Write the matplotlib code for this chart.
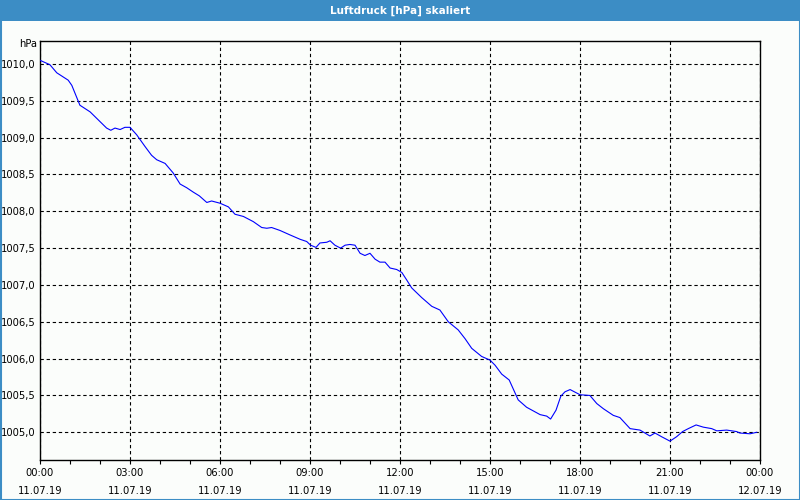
import matplotlib
matplotlib.use("Agg")
import matplotlib.pyplot as plt
from matplotlib.patches import Rectangle

# Time in hours since 11.07.19 00:00
hours = [0.0, 0.33, 0.56, 0.94, 1.06, 1.33, 1.67, 2.22, 2.36, 2.5, 2.67, 2.83, 3.0,
         3.22, 3.5, 3.72, 3.89, 4.17, 4.44, 4.67, 4.89, 5.11, 5.31, 5.56, 5.72, 6.0,
         6.28, 6.5, 6.78, 7.11, 7.39, 7.56, 7.72, 8.0, 8.33, 8.67, 8.89, 9.02, 9.2,
         9.33, 9.56, 9.67, 9.83, 10.02, 10.17, 10.33, 10.5, 10.67, 10.83, 11.0, 11.17,
         11.33, 11.5, 11.67, 11.89, 12.06, 12.22, 12.39, 12.72, 13.06, 13.33, 13.61,
         13.94, 14.17, 14.39, 14.72, 15.0, 15.17, 15.39, 15.64, 15.94, 16.22, 16.67,
         16.89, 17.02, 17.2, 17.36, 17.5, 17.67, 18.0, 18.33, 18.56, 18.78, 19.11,
         19.33, 19.67, 20.0, 20.33, 20.5, 20.72, 21.0, 21.22, 21.42, 21.61, 21.87,
         22.11, 22.39, 22.56, 22.89, 23.22, 23.33, 23.67, 23.89]
pressure = [1010.05, 1009.99, 1009.88, 1009.78, 1009.71, 1009.44, 1009.35, 1009.13,
            1009.10, 1009.13, 1009.11, 1009.14, 1009.14, 1009.04, 1008.88, 1008.76,
            1008.70, 1008.65, 1008.52, 1008.37, 1008.32, 1008.26, 1008.21, 1008.12,
            1008.14, 1008.11, 1008.06, 1007.96, 1007.93, 1007.86, 1007.78, 1007.77,
            1007.78, 1007.74, 1007.68, 1007.62, 1007.59, 1007.54, 1007.51, 1007.57,
            1007.58, 1007.60, 1007.54, 1007.50, 1007.54, 1007.55, 1007.54, 1007.43,
            1007.40, 1007.43, 1007.35, 1007.31, 1007.31, 1007.23, 1007.21, 1007.17,
            1007.07, 1006.96, 1006.83, 1006.71, 1006.66, 1006.50, 1006.39, 1006.27,
            1006.14, 1006.03, 1005.98, 1005.91, 1005.79, 1005.71, 1005.44, 1005.34,
            1005.24, 1005.22, 1005.18, 1005.30, 1005.49, 1005.55, 1005.58, 1005.51,
            1005.50, 1005.39, 1005.32, 1005.23, 1005.20, 1005.05, 1005.03, 1004.95,
            1004.99, 1004.94, 1004.88, 1004.94, 1005.01, 1005.05, 1005.10, 1005.07,
            1005.05, 1005.02, 1005.03, 1005.01, 1004.99, 1004.98, 1005.00]

xtick_pos = [0, 3, 6, 9, 12, 15, 18, 21, 24]
xtick_labels = ["00:00\n11.07.19", "03:00\n11.07.19", "06:00\n11.07.19",
                "09:00\n11.07.19", "12:00\n11.07.19", "15:00\n11.07.19",
                "18:00\n11.07.19", "21:00\n11.07.19", "00:00\n12.07.19"]
ytick_pos = [1005.0, 1005.5, 1006.0, 1006.5, 1007.0, 1007.5, 1008.0, 1008.5,
             1009.0, 1009.5, 1010.0]
ytick_labels = ["1005,0", "1005,5", "1006,0", "1006,5", "1007,0", "1007,5",
                "1008,0", "1008,5", "1009,0", "1009,5", "1010,0"]
title = "Luftdruck [hPa] skaliert"
unit = "hPa"

bg = "#fbfdfb"
bar = "#3c8dc5"

fig = plt.figure(figsize=(8, 5), dpi=100, facecolor=bg)

# title bar and border
fig.patches.append(Rectangle((0, 1 - 21 / 500), 1, 21 / 500, transform=fig.transFigure,
                             facecolor=bar, edgecolor="none", zorder=0))
fig.patches.append(Rectangle((0.5 / 800, 0.5 / 500), 1 - 1 / 800, 1 - 1 / 500,
                             transform=fig.transFigure, facecolor="none",
                             edgecolor=bar, linewidth=1.5, zorder=1))
fig.text(0.5, 1 - 10.5 / 500, title, color="white", fontsize=7.5, fontweight="bold",
         ha="center", va="center", family="DejaVu Sans")

ax = fig.add_axes([40 / 800, 1 - 460 / 500, 720 / 800, (460 - 40.7) / 500])
ax.set_facecolor(bg)
ax.plot(hours, pressure, color="#0000ff", linewidth=0.8, zorder=3)

ax.set_xlim(0, 24)
ax.set_ylim(1004.624, 1010.316)
ax.set_xticks(xtick_pos)
ax.set_xticklabels(xtick_labels, fontsize=7.2, linespacing=1.9)
ax.set_xticks(range(0, 25), minor=True)
ax.set_yticks(ytick_pos)
ax.set_yticklabels(ytick_labels, fontsize=7.2)
ax.tick_params(axis="x", which="both", direction="out", length=3, width=0.8, pad=3,
               color="black")
ax.tick_params(axis="y", which="both", length=0, pad=3)

ax.grid(True, which="major", color="black", linestyle=(0, (3, 2.5)), linewidth=0.8)
for s in ax.spines.values():
    s.set_color("black")
    s.set_linewidth(1.0)

fig.text(37 / 800, 1 - 44 / 500, unit, fontsize=7.2, ha="right", va="center")

fig.savefig("out.png", dpi=100, facecolor=bg)
